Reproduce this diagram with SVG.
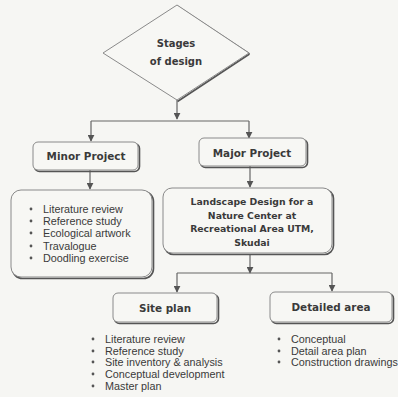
<svg xmlns="http://www.w3.org/2000/svg" width="398" height="397" viewBox="0 0 398 397">
<defs>
<marker id="ah" viewBox="0 0 10 10" refX="9" refY="5" markerWidth="7" markerHeight="7" markerUnits="userSpaceOnUse" orient="auto">
<path d="M0,0 L10,5 L0,10 z" fill="#555"/>
</marker>
</defs>
<style>
.bg{fill:#f6f6f3}
.box{fill:#f7f7f4;stroke:#8a8a8a;stroke-width:1}
.sh{fill:none;stroke:#555;stroke-width:1.6}
.ln{fill:none;stroke:#666;stroke-width:1.2}
.t{font-family:"DejaVu Sans",Verdana,sans-serif;font-weight:bold;fill:#3a3a3a;text-anchor:middle}
.b{font-family:"Liberation Sans",Arial,sans-serif;font-size:10.8px;fill:#3a3a3a}
.d{fill:#555}
</style>
<rect class="bg" x="0" y="0" width="398" height="397"/>
<g id="connectors">
<path class="ln" d="M177,100 V119" marker-end="url(#ah)"/>
<path class="ln" d="M91,121 H249"/>
<path class="ln" d="M91,121 V141" marker-end="url(#ah)"/>
<path class="ln" d="M249,121 V138" marker-end="url(#ah)"/>
<path class="ln" d="M90,170 V189" marker-end="url(#ah)"/>
<path class="ln" d="M250,166 V187" marker-end="url(#ah)"/>
<path class="ln" d="M250,254 V273" marker-end="url(#ah)"/>
<path class="ln" d="M177,273 H332"/>
<path class="ln" d="M177,273 V292" marker-end="url(#ah)"/>
<path class="ln" d="M332,273 V291" marker-end="url(#ah)"/>
</g>
<g id="stages">
<path class="sh" d="M249.5,54 L177.5,101.5 M249.5,54 L177,6"/>
<polygon class="box" points="177,5 249,53 177,100 103,53"/>
<text class="t" x="176" y="47" font-size="10">Stages</text>
<text class="t" x="176" y="65" font-size="10">of design</text>
</g>
<g id="minor">
<rect class="sh" x="34.5" y="143.5" width="105" height="28" rx="5"/>
<rect class="box" x="33" y="142" width="105" height="28" rx="5"/>
<text class="t" x="86" y="160" font-size="10.4">Minor Project</text>
</g>
<g id="minor-list">
<rect class="sh" x="12.5" y="191.5" width="141" height="87" rx="10"/>
<rect class="box" x="11" y="190" width="141" height="87" rx="10"/>
<circle class="d" cx="31" cy="209" r="1.4"/><text class="b" x="43" y="213">Literature review</text>
<circle class="d" cx="31" cy="221" r="1.4"/><text class="b" x="43" y="225">Reference study</text>
<circle class="d" cx="31" cy="233" r="1.4"/><text class="b" x="43" y="237">Ecological artwork</text>
<circle class="d" cx="31" cy="246" r="1.4"/><text class="b" x="43" y="250">Travalogue</text>
<circle class="d" cx="31" cy="258" r="1.4"/><text class="b" x="43" y="262">Doodling exercise</text>
</g>
<g id="major">
<rect class="sh" x="200.5" y="139.5" width="107" height="28" rx="5"/>
<rect class="box" x="199" y="138" width="107" height="28" rx="5"/>
<text class="t" x="252" y="157" font-size="10.4">Major Project</text>
</g>
<g id="landscape">
<rect class="sh" x="164.5" y="189.5" width="169" height="65" rx="9"/>
<rect class="box" x="163" y="188" width="169" height="65" rx="9"/>
<text class="t" x="252" y="205" font-size="9.3">Landscape Design for a</text>
<text class="t" x="252" y="218.5" font-size="9.3">Nature Center at</text>
<text class="t" x="252" y="232" font-size="9.3">Recreational Area UTM,</text>
<text class="t" x="252" y="245.5" font-size="9.3">Skudai</text>
</g>
<g id="siteplan">
<rect class="sh" x="114.5" y="294.5" width="104" height="29" rx="5"/>
<rect class="box" x="113" y="293" width="104" height="29" rx="5"/>
<text class="t" x="165" y="312" font-size="10.4">Site plan</text>
</g>
<g id="siteplan-list">
<circle class="d" cx="93" cy="339" r="1.4"/><text class="b" x="105" y="343">Literature review</text>
<circle class="d" cx="93" cy="351" r="1.4"/><text class="b" x="105" y="355">Reference study</text>
<circle class="d" cx="93" cy="362" r="1.4"/><text class="b" x="105" y="366">Site inventory &amp; analysis</text>
<circle class="d" cx="93" cy="374" r="1.4"/><text class="b" x="105" y="378">Conceptual development</text>
<circle class="d" cx="93" cy="386" r="1.4"/><text class="b" x="105" y="390">Master plan</text>
</g>
<g id="detailed">
<rect class="sh" x="271.5" y="293.5" width="122" height="30" rx="5"/>
<rect class="box" x="270" y="292" width="122" height="30" rx="5"/>
<text class="t" x="331" y="311" font-size="10.4">Detailed area</text>
</g>
<g id="detailed-list">
<circle class="d" cx="279" cy="339" r="1.4"/><text class="b" x="291" y="343">Conceptual</text>
<circle class="d" cx="279" cy="351" r="1.4"/><text class="b" x="291" y="355">Detail area plan</text>
<circle class="d" cx="279" cy="362" r="1.4"/><text class="b" x="291" y="366">Construction drawings</text>
</g>
</svg>
